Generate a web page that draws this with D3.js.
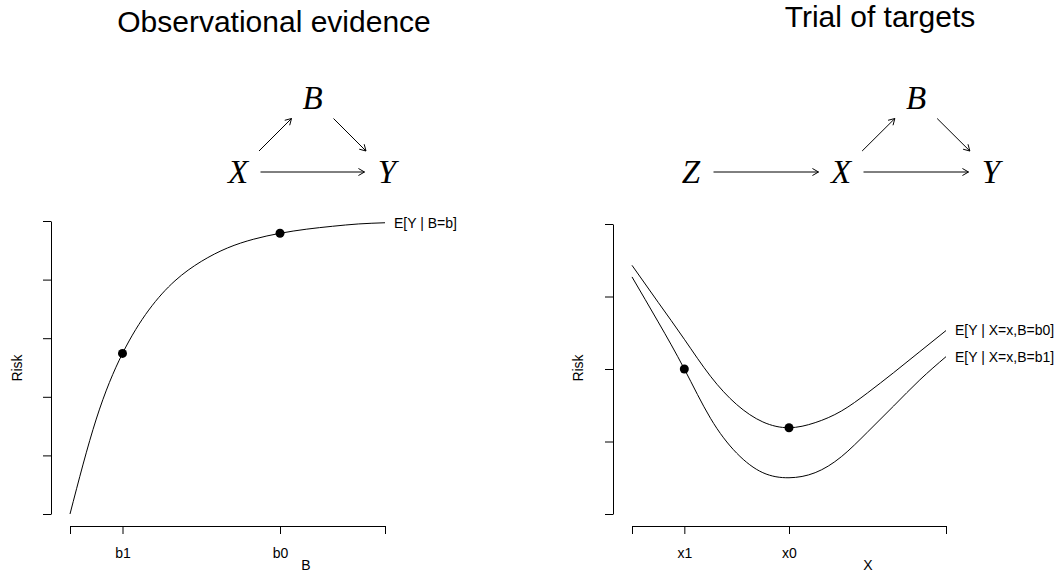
<!DOCTYPE html>
<html>
<head>
<meta charset="utf-8">
<script src="https://cdn.jsdelivr.net/npm/d3@7"></script>
<style>
  body { margin: 0; background: #fff; }
  text { font-family: "Liberation Sans", Arial, Helvetica, sans-serif; }
  .dag text { font-family: "Liberation Serif", "DejaVu Serif", serif; font-style: italic; }
</style>
</head>
<body>
<svg id="chart" width="1060" height="573"></svg>
<script>
'use strict'

// left panel: observational evidence, risk against B
const obs_b = [0, 0.5, 1, 1.5, 2, 2.5, 3, 3.5, 4, 4.5, 5, 5.5, 6]
const obs_risk = [0, 1.62, 2.74, 3.48, 3.98, 4.31, 4.54, 4.69, 4.79, 4.86, 4.91, 4.95, 4.97]
const obs_points_b = [1, 4]
const obs_points_risk = [2.74, 4.79]
const obs_x_ticks = [0, 1, 4, 6]
const obs_x_labels = ["", "b1", "b0", ""]
const obs_y_ticks = [0, 1, 2, 3, 4, 5]

// right panel: trial of targets, risk against X for two values of B
const trial_x = [0, 0.5, 1, 1.5, 2, 2.5, 3, 3.5, 4, 4.5, 5, 5.5, 6]
const risk_b0 = [3.43, 2.92, 2.41, 1.90, 1.51, 1.27, 1.19, 1.26, 1.42, 1.67, 1.95, 2.24, 2.53]
const risk_b1 = [3.27, 2.65, 2.00, 1.32, 0.84, 0.57, 0.50, 0.57, 0.79, 1.13, 1.49, 1.85, 2.17]
const trial_points_x = [1, 3]
const trial_points_risk = [2.00, 1.19]
const trial_x_ticks = [0, 1, 3, 6]
const trial_x_labels = ["", "x1", "x0", ""]
const trial_y_ticks = [0, 1, 2, 3, 4]

// causal diagrams
const left_dag_nodes = [{id: "X", col: 0, row: 1}, {id: "B", col: 1, row: 0}, {id: "Y", col: 2, row: 1}]
const left_dag_edges = [["X", "B"], ["B", "Y"], ["X", "Y"]]
const right_dag_nodes = [{id: "Z", col: -2, row: 1}, {id: "X", col: 0, row: 1}, {id: "B", col: 1, row: 0}, {id: "Y", col: 2, row: 1}]
const right_dag_edges = [["Z", "X"], ["X", "B"], ["B", "Y"], ["X", "Y"]]

const svg = d3.select("#chart")

function drawDag(nodes, edges, colScale, rowScale){
  let g = svg.append("g").attr("class", "dag")
  let byId = {}
  nodes.forEach(function(n){ byId[n.id] = n })

  g.selectAll("text").data(nodes).join("text")
    .attr("x", d => colScale(d.col))
    .attr("y", d => rowScale(d.row) + 11)
    .attr("text-anchor", "middle")
    .attr("font-size", 33)
    .text(d => d.id)

  // clip each edge to a box round the letters, then add an open arrow head
  const hw = 22.5, hh = 21, head = 7, ang = Math.PI / 6
  g.selectAll("path").data(edges).join("path")
    .attr("fill", "none")
    .attr("stroke", "#000")
    .attr("stroke-width", 1)
    .attr("d", function(e){
      let a = byId[e[0]], b = byId[e[1]]
      let ax = colScale(a.col), ay = rowScale(a.row)
      let bx = colScale(b.col), by = rowScale(b.row)
      let dx = bx - ax, dy = by - ay
      let s = Math.min(dx != 0 ? hw / Math.abs(dx) : Infinity, dy != 0 ? hh / Math.abs(dy) : Infinity)
      let x1 = ax + s * dx, y1 = ay + s * dy
      let x2 = bx - s * dx, y2 = by - s * dy
      let th = Math.atan2(dy, dx)
      let p = d3.path()
      p.moveTo(x1, y1); p.lineTo(x2, y2)
      p.moveTo(x2 - head * Math.cos(th - ang), y2 - head * Math.sin(th - ang))
      p.lineTo(x2, y2)
      p.lineTo(x2 - head * Math.cos(th + ang), y2 - head * Math.sin(th + ang))
      return p.toString()
    })
}

function drawPanel(opt){
  let g = svg.append("g")
  let x = d3.scaleLinear().domain(opt.xDomain).range(opt.xRange)
  let y = d3.scaleLinear().domain(opt.yDomain).range(opt.yRange)

  let yAxis = g.append("g")
    .attr("transform", "translate(" + opt.yAxisX + ",0)")
    .call(d3.axisLeft(y).tickValues(opt.yTicks).tickSize(8).tickSizeOuter(0).tickFormat(""))
  let xAxis = g.append("g")
    .attr("transform", "translate(0," + opt.xAxisY + ")")
    .call(d3.axisBottom(x).tickValues(opt.xTicks).tickSize(8).tickSizeOuter(0).tickPadding(14)
      .tickFormat((d, i) => opt.xLabels[i]))
  g.selectAll(".domain, .tick line").attr("stroke", "#000").attr("stroke-width", 1)
  g.selectAll(".tick text").attr("font-size", 14).attr("fill", "#000")
    .attr("font-family", "Liberation Sans, Arial, sans-serif")

  let line = d3.line().x(d => x(d[0])).y(d => y(d[1])).curve(d3.curveNatural)
  opt.series.forEach(function(s){
    let pts = d3.zip(opt.xs, s.values)
    g.append("path").datum(pts)
      .attr("fill", "none").attr("stroke", "#000").attr("stroke-width", 1)
      .attr("d", line)
    let last = pts[pts.length - 1]
    g.append("text")
      .attr("x", x(last[0]) + 9)
      .attr("y", y(last[1]))
      .attr("dy", "0.35em")
      .attr("font-size", 14)
      .text(s.label)
  })

  g.selectAll("circle").data(d3.zip(opt.pointsX, opt.pointsY)).join("circle")
    .attr("cx", d => x(d[0])).attr("cy", d => y(d[1])).attr("r", 4.5)
    .attr("fill", "#000")

  g.append("text")
    .attr("x", opt.xTitleX).attr("y", 570)
    .attr("text-anchor", "middle").attr("font-size", 14)
    .text(opt.xTitle)
  g.append("text")
    .attr("transform", "translate(" + opt.yTitleX + ",368) rotate(-90)")
    .attr("text-anchor", "middle").attr("font-size", 14)
    .text("Risk")

  g.append("text")
    .attr("x", opt.titleX).attr("y", opt.titleY)
    .attr("text-anchor", "middle").attr("font-size", 30)
    .text(opt.title)
}

drawPanel({
  title: "Observational evidence", titleX: 274, titleY: 31.5,
  xDomain: [0, 6], xRange: [70, 385],
  yDomain: [0, 5], yRange: [514, 221],
  yAxisX: 51, xAxisY: 526,
  xTicks: obs_x_ticks, xLabels: obs_x_labels, yTicks: obs_y_ticks,
  xs: obs_b,
  series: [{values: obs_risk, label: "E[Y | B=b]"}],
  pointsX: obs_points_b, pointsY: obs_points_risk,
  xTitle: "B", xTitleX: 306, yTitleX: 22
})

drawPanel({
  title: "Trial of targets", titleX: 880, titleY: 26.5,
  xDomain: [0, 6], xRange: [632, 946],
  yDomain: [0, 4], yRange: [514, 224],
  yAxisX: 613, xAxisY: 526,
  xTicks: trial_x_ticks, xLabels: trial_x_labels, yTicks: trial_y_ticks,
  xs: trial_x,
  series: [{values: risk_b0, label: "E[Y | X=x,B=b0]"}, {values: risk_b1, label: "E[Y | X=x,B=b1]"}],
  pointsX: trial_points_x, pointsY: trial_points_risk,
  xTitle: "X", xTitleX: 868, yTitleX: 583
})

let rowScale = d3.scaleLinear().domain([0, 1]).range([97.5, 172])
drawDag(left_dag_nodes, left_dag_edges, d3.scaleLinear().domain([0, 2]).range([238, 387]), rowScale)
drawDag(right_dag_nodes, right_dag_edges, d3.scaleLinear().domain([0, 2]).range([841, 991]), rowScale)
</script>
</body>
</html>
